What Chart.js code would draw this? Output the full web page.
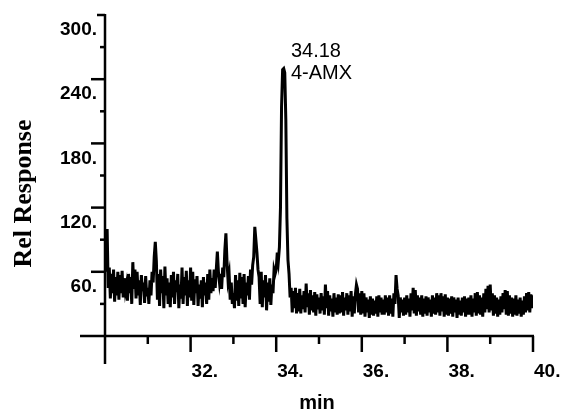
<!DOCTYPE html>
<html><head><meta charset="utf-8">
<script src="https://cdn.jsdelivr.net/npm/chart.js@4/dist/chart.umd.min.js"></script>
<style>html,body{margin:0;padding:0;background:#fff;}#wrap{width:567px;height:414px;}</style>
</head><body><div id="wrap"><canvas id="c" width="567" height="414"></canvas></div>
<script>
// sampling of the trace (minutes)
const startTime = 30;
const sampleStep = 0.025;
// relative response, one value per sample (30.000 ... 40.000 min)
const response = [
96,60,100,45,64,35,58,40,62,32,55,38,60,34,57,40,61,36,54,42,
48,33,58,40,55,30,69,44,62,35,60,38,52,29,57,42,50,31,56,37,
45,30,52,38,60,50,74,88,70,34,58,28,62,40,56,26,65,38,54,30,
50,27,57,36,60,30,52,41,58,26,48,35,64,30,55,38,61,28,52,36,
64,33,60,29,53,40,56,28,48,35,52,27,55,38,50,30,58,34,62,40,
54,42,62,45,62,79,60,50,58,44,64,55,80,96,70,52,58,34,50,30,
40,26,57,33,52,28,59,35,55,30,58,27,50,38,56,34,62,48,66,74,
102,90,78,62,55,30,60,27,52,36,57,24,50,32,54,29,48,40,62,58,
62,78,70,83,120,214,249,250,246,202,110,71,58,36,45,22,42,26,45,21,
40,23,44,21,38,25,42,22,49,27,40,20,43,24,38,22,41,19,39,25,
36,21,40,24,37,20,48,26,42,19,38,23,35,18,40,22,36,20,39,21,
38,22,41,19,36,24,40,20,38,23,42,18,37,21,39,48,44,22,40,20,
42,21,40,18,36,22,34,17,37,20,35,19,33,21,37,18,38,22,36,20,
34,20,38,22,36,19,38,21,35,18,40,30,57,44,38,17,36,22,34,19,
36,20,38,22,35,18,40,24,45,21,43,19,38,23,36,20,38,18,35,21,
37,19,36,22,34,18,38,21,36,20,40,22,38,19,40,23,37,18,39,20,
36,19,35,21,37,18,36,22,34,17,36,20,33,19,36,22,37,18,35,20,
36,20,38,18,35,22,40,19,41,21,38,20,36,18,40,22,44,25,47,22,
48,24,40,19,38,21,36,18,34,20,37,22,40,25,43,20,42,19,38,21,
36,18,35,20,38,19,34,21,36,18,33,20,37,22,40,24,41,22,39,26,38
];
const xMajorTicks = [32, 34, 36, 38, 40];
const xTickLabels = ['32.', '34.', '36.', '38.', '40.'];
const xMinorTicks = [31, 33, 35, 37, 39];
const yMajorTicks = [60, 120, 180, 240, 300];
const yTickLabels = ['60.', '120.', '180.', '240.', '300.'];
const yMinorTicks = [30, 90, 150, 210, 270];
const peakTime = 34.18;
const peakLabel = '34.18';
const peakName = '4-AMX';
const xTitle = 'min';
const yTitle = 'Rel Response';

const points = response.map((v, i) => ({x: startTime + i * sampleStep, y: v}));
const peakValue = Math.max(...response);

const axesPlugin = {
  id: 'axesPlugin',
  afterDraw(chart) {
    const {ctx, scales: {x, y}} = chart;
    const x0 = x.getPixelForValue(30), xEnd = x.getPixelForValue(40);
    const y0 = y.getPixelForValue(0), yTop = y.getPixelForValue(300);
    ctx.save();
    ctx.strokeStyle = '#000';
    ctx.fillStyle = '#000';
    ctx.lineWidth = 2.5;
    ctx.lineCap = 'butt';
    const seg = (a, b, c, d) => { ctx.beginPath(); ctx.moveTo(a, b); ctx.lineTo(c, d); ctx.stroke(); };
    seg(x0, yTop - 1, x0, y0 + 28);
    seg(x0 - 25, y0, xEnd + 1, y0);
    yMajorTicks.forEach(v => { const p = y.getPixelForValue(v); seg(x0, p, x0 - (v === 300 ? 8 : 14), p); });
    yMinorTicks.forEach(v => { const p = y.getPixelForValue(v); seg(x0, p, x0 - 5, p); });
    xMajorTicks.forEach(v => { const p = x.getPixelForValue(v); seg(p, y0, p, y0 + 16); });
    xMinorTicks.forEach(v => { const p = x.getPixelForValue(v); seg(p, y0, p, y0 + 8); });
    ctx.font = 'bold 19px "Liberation Sans", Arial, sans-serif';
    ctx.textBaseline = 'middle';
    ctx.textAlign = 'right';
    yMajorTicks.forEach((v, i) => { ctx.fillText(yTickLabels[i], x0 - 8, y.getPixelForValue(v) + 15); });
    ctx.textAlign = 'left';
    xMajorTicks.forEach((v, i) => { ctx.fillText(xTickLabels[i], x.getPixelForValue(v) + 1, y0 + 36); });
    ctx.textAlign = 'center';
    ctx.font = 'bold 20px "Liberation Sans", Arial, sans-serif';
    ctx.fillText(xTitle, 317, y0 + 67);
    ctx.save();
    ctx.translate(24, (yTop + y0) / 2 + 18);
    ctx.rotate(-Math.PI / 2);
    ctx.font = 'bold 26px "Liberation Serif", "Times New Roman", serif';
    ctx.fillText(yTitle, 0, 0);
    ctx.restore();
    ctx.font = '20px "Liberation Sans", Arial, sans-serif';
    ctx.textAlign = 'left';
    ctx.textBaseline = 'alphabetic';
    const px = x.getPixelForValue(peakTime) + 7, py = y.getPixelForValue(peakValue);
    ctx.fillText(peakLabel, px, py - 12);
    ctx.fillText(peakName, px, py + 10);
    ctx.restore();
  }
};

new Chart(document.getElementById('c'), {
  type: 'line',
  data: { datasets: [{ data: points, borderColor: '#000', borderWidth: 3, pointRadius: 0, tension: 0, fill: false }] },
  options: {
    responsive: false,
    animation: false,
    devicePixelRatio: 1,
    layout: { padding: { left: 105, right: 34, top: 15, bottom: 78 } },
    plugins: { legend: { display: false }, tooltip: { enabled: false } },
    scales: {
      x: { type: 'linear', min: 30, max: 40, display: false },
      y: { type: 'linear', min: 0, max: 300, display: false }
    }
  },
  plugins: [axesPlugin]
});
</script>
</body></html>
